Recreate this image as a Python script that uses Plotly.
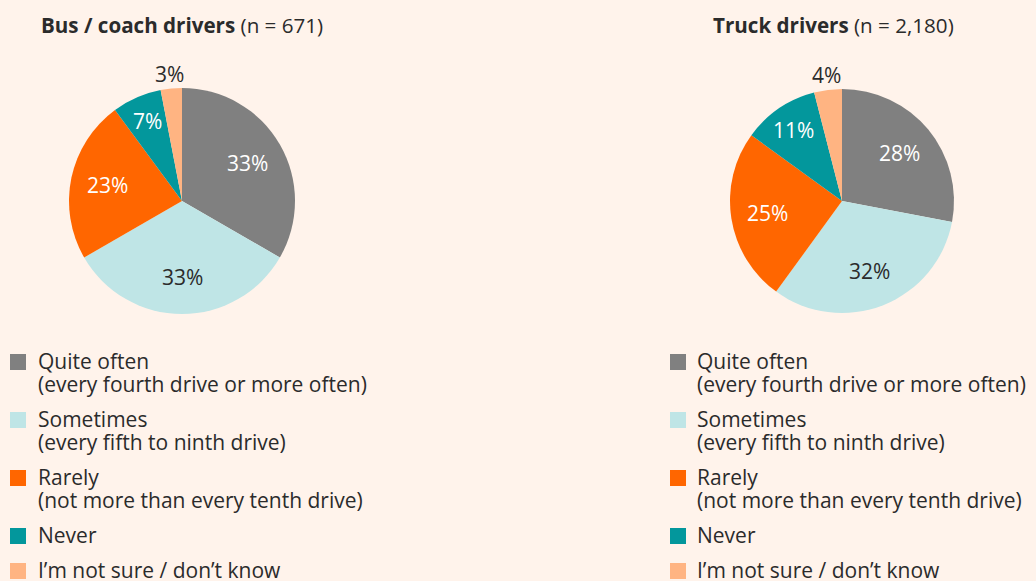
import math
import plotly.graph_objects as go

# ---- data ----
categories = [
    "Quite often\n(every fourth drive or more often)",
    "Sometimes\n(every fifth to ninth drive)",
    "Rarely\n(not more than every tenth drive)",
    "Never",
    "I\u2019m not sure / don\u2019t know",
]
bus_values = [33, 33, 23, 7, 3]
truck_values = [28, 32, 25, 11, 4]
bus_title = ("Bus / coach drivers", "(n = 671)")
truck_title = ("Truck drivers", "(n = 2,180)")

colors = ["#808080", "#BFE5E6", "#FF6600", "#03979C", "#FFB482"]
label_colors = ["#FFFFFF", "#2B2B2B", "#FFFFFF", "#FFFFFF", "#2B2B2B"]
BG = "#FFF3EB"
TXT = "#2B2B2B"
FONT = "Open Sans"

W, H = 1036, 581


def px_x(x):
    return x / W


def px_y(y):
    return 1 - y / H


def pie_trace(values, cx, cy, r):
    return go.Pie(
        labels=[c.replace("\n", " ") for c in categories],
        values=values,
        textinfo="none",
        marker=dict(colors=colors, line=dict(width=0)),
        sort=False,
        direction="clockwise",
        rotation=0,
        showlegend=False,
        hovertemplate="%{label}: %{value}%<extra></extra>",
        domain=dict(x=[px_x(cx - r), px_x(cx + r)], y=[px_y(cy + r), px_y(cy - r)]),
    )


def pie_labels(values, cx, cy, r):
    """Percentage labels placed at each slice's mid-angle."""
    out = []
    total = sum(values)
    cum = 0
    for v, col in zip(values, label_colors):
        share = v / total
        mid = (cum + v / 2) / total * 2 * math.pi
        cum += v
        if share < 0.05:
            dist = r + 15
            color = TXT
        elif share < 0.15:
            dist = 0.77 * r
            color = col
        else:
            dist = 0.67 * r
            color = col
        x = cx + dist * math.sin(mid)
        y = cy - dist * math.cos(mid)
        out.append(dict(
            x=px_x(x), y=px_y(y), xref="paper", yref="paper",
            xanchor="center", yanchor="middle", showarrow=False,
            text=f"{v}%", borderpad=0,
            font=dict(family=FONT, size=21, color=color),
        ))
    return out


PIES = [(bus_values, 182, 201, 113), (truck_values, 842, 201, 112)]

fig = go.Figure()
annotations = []
shapes = []
for vals, cx, cy, r in PIES:
    fig.add_trace(pie_trace(vals, cx, cy, r))
    annotations += pie_labels(vals, cx, cy, r)

# titles
for (bold, rest), cx in [(bus_title, 182), (truck_title, 833)]:
    annotations.append(dict(
        x=px_x(cx), y=px_y(25), xref="paper", yref="paper",
        xanchor="center", yanchor="middle", showarrow=False,
        text=f"<b>{bold}</b> {rest}",
        font=dict(family=FONT, size=20.6, color=TXT),
    ))

# legends (one per pie)
LINE_H = 23
ITEM_GAP = 35
SQ = 16
for sq_x, txt_x in [(10, 37), (670, 696)]:
    y = 361
    for cat, col in zip(categories, colors):
        shapes.append(dict(
            type="rect", xref="paper", yref="paper",
            x0=px_x(sq_x), x1=px_x(sq_x + SQ),
            y0=px_y(y + 1 + SQ / 2), y1=px_y(y + 1 - SQ / 2),
            fillcolor=col, line=dict(width=0),
        ))
        lines = cat.split("\n")
        for k, line in enumerate(lines):
            annotations.append(dict(
                x=px_x(txt_x), y=px_y(y + k * LINE_H), xref="paper", yref="paper",
                xanchor="left", yanchor="middle", showarrow=False,
                text=line, borderpad=0,
                font=dict(family=FONT, size=21, color=TXT),
            ))
        y += (len(lines) - 1) * LINE_H + ITEM_GAP

fig.update_layout(
    width=W, height=H,
    margin=dict(l=0, r=0, t=0, b=0),
    paper_bgcolor=BG, plot_bgcolor=BG,
    font=dict(family=FONT, color=TXT),
    annotations=annotations,
    shapes=shapes,
)

fig.write_html(
    "out.html",
    config={"displayModeBar": False},
    post_script="document.body.style.margin='0';document.body.style.background='" + BG + "';",
)
